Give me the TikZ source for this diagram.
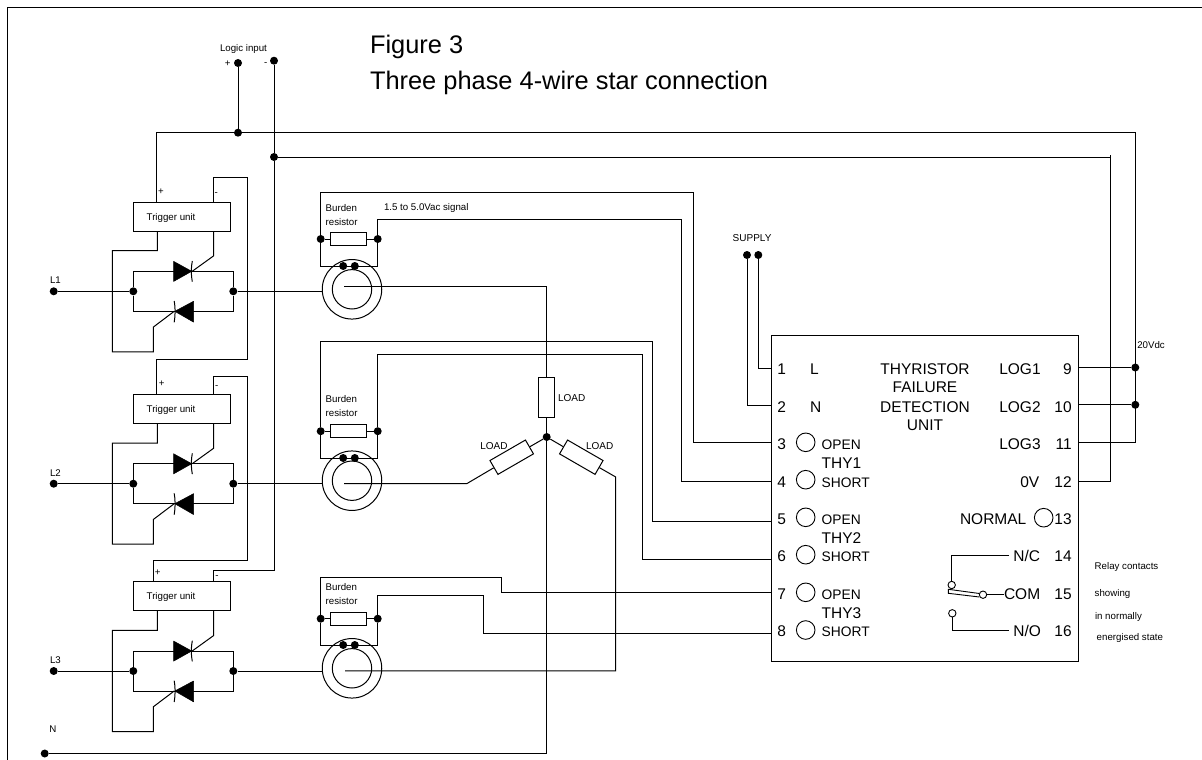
\documentclass[tikz,border=0pt]{standalone}
\usepackage{fontspec}
\setmainfont{Liberation Sans}
\newcommand{\fsz}[1]{\fontsize{#1}{#1}\selectfont}
\tikzset{
  wire/.style={draw=black,line width=1pt,line join=miter},
  dot/.style={circle,fill=black,draw=none,inner sep=0pt,minimum size=8pt},
  ldot/.style={circle,draw=black,line width=.9pt,fill=white,inner sep=0pt,minimum size=7.4pt},
  lamp/.style={circle,draw=black,line width=.9pt,fill=white,inner sep=0pt,minimum size=18.6pt},
  txt/.style={inner sep=0pt,outer sep=0pt,anchor=base west,text=black},
  rtxt/.style={txt,anchor=base east},
  ctxt/.style={txt,anchor=base},
  tiny/.style={font=\fsz{9.7}},
  mid/.style={font=\fsz{15.5}},
  opn/.style={font=\fsz{13.8}},
  ttl/.style={font=\fsz{25.4}},
  trigbox/.style={draw=black,line width=1pt,minimum width=96.7pt,minimum height=29pt,inner sep=0pt},
  res/.style={draw=black,line width=1pt,fill=white,minimum width=36pt,minimum height=12.6pt,inner sep=0pt},
  ring/.style={circle,draw=black,line width=1pt,inner sep=0pt},
  thy/.style={fill=black,draw=black,line width=.5pt,line join=round}
}
% one thyristor pair with its trigger unit, #1 = name suffix, #2 = y of the line
\newcommand{\phasegroup}[2]{%
\begin{scope}[shift={(0,#2)}]
  \node[trigbox] (T#1) at (181.65,-74.8) {};
  \node[txt,tiny] (Tl#1) at (146.7,-71.3) {Trigger unit};
  \node[dot] (L#1) at (53.7,0) {};
  \node[txt,tiny] (Ll#1) at (50,-7.5) {L#1};
  \node[dot] (A#1) at (133.3,0) {};
  \node[dot] (B#1) at (233.3,0) {};
  \coordinate (W#1) at (322.3,0);
  \coordinate (G#1) at (192.2,-20);
  \coordinate (H#1) at (174.2,20);
  \draw[wire] (L#1) -- (A#1);
  \draw[wire] (B#1) -- (W#1);
  \draw[wire] (A#1) -- (133.3,-20) -- (233.3,-20) -- (B#1);
  \draw[wire] (A#1) -- (133.3,20) -- (233.3,20) -- (B#1);
  \draw[thy] (173.5,-30) -- (191.7,-20) -- (173.5,-9.8) -- cycle;
  \draw[thy] (193.5,10) -- (174.8,20) -- (193.5,30.8) -- cycle;
  \draw[line width=1pt] (192.3,-30.3) .. controls (191,-24) and (191,-16) .. (192.3,-9.6);
  \draw[line width=1pt] (174.2,9.7) .. controls (175.4,16) and (175.4,24) .. (174.2,31);
  \coordinate (Tg#1) at (213.7,-60.3);
  \draw[wire] (Tg#1) -- (213.7,-35.5) -- (G#1);
  \coordinate (Tk#1) at (157.3,-60.3);
  \draw[wire] (Tk#1) -- (157.3,-40.6) -- (112.3,-40.6) -- (112.3,60.5) -- (153.3,60.5) -- (153.3,35.8) -- (H#1);
  \coordinate (Tp#1) at (156.5,-89.3);
  \coordinate (Tm#1) at (213.7,-89.3);
\end{scope}}
% burden resistor and current transformer
\newcommand{\burden}[7]{% #1 suffix, #2 resistor y, #3 left dot y, #4 right dot y, #5 bottom y, #6 ring y, #7 text y
  \node[res] (R#1) at (348.7,#2) {};
  \node[dot] (RL#1) at (320.7,#3) {};
  \node[dot] (RR#1) at (377.7,#4) {};
  \draw[wire] (RL#1) -- (330.7,#3);
  \draw[wire] (366.7,#4) -- (RR#1);
  \draw[wire] (RL#1) -- (320.7,#5) -- (377.7,#5) -- (RR#1);
  \node[ring,minimum size=59.5pt] (CO#1) at (352,#6) {};
  \node[ring,minimum size=39.4pt] (CI#1) at (352,#6) {};
  \node[dot] (CA#1) at (343.2,#5) {};
  \node[dot] (CB#1) at (354.8,#5) {};
  \node[txt,tiny] (Bu#1) at (325.7,#7) {Burden};
  \node[txt,tiny] (Bs#1) at (325.7,#7+14) {resistor};
}
\begin{document}
\begin{tikzpicture}[x=1pt,y=-1pt]
\useasboundingbox (0,0) rectangle (1202,760);
% page frame
\coordinate (FL) at (7.5,760);
\coordinate (FC) at (7.5,7.5);
\coordinate (FR) at (1202,7.5);
\draw[line width=1pt] (FL) -- (FC) -- (FR);
% title
\node[txt,ttl] (title1) at (370,54) {Figure 3};
\node[txt,ttl] (title2) at (370,89.5) {Three phase 4-wire star connection};
% logic input
\node[txt,tiny] (logic) at (220,52) {Logic input};
\node[dot] (LP) at (238,63) {};
\node[dot] (LM) at (274,60.7) {};
\node[txt,tiny,anchor=base] (lpl) at (227.7,66.5) {+};
\node[txt,tiny,anchor=base] (lml) at (265.7,66) {-};
\node[dot] (RP) at (238,132.7) {};
\node[dot] (RM) at (274,157) {};
\draw[wire] (LP) -- (RP);
% phases
\phasegroup{1}{291.3}
\phasegroup{2}{483.7}
\phasegroup{3}{671}
\node[txt,tiny,anchor=base] at (161,194) {+};
\node[txt,tiny,anchor=base] at (216.3,195) {-};
\node[txt,tiny,anchor=base] at (161.7,386.7) {+};
\node[txt,tiny,anchor=base] at (216.7,388) {-};
\node[txt,tiny,anchor=base] at (157.7,575.7) {+};
\node[txt,tiny,anchor=base] at (217,578) {-};
% unit
\node[draw=black,line width=1pt,minimum width=306.6pt,minimum height=326pt,inner sep=0pt] (U) at (925,498.7) {};
\foreach \n/\y in {1/368.3,2/405.8,3/442.7,4/481.7,5/521,6/559,7/592.7,8/633.3}
  \coordinate (p\n) at (771.7,\y);
\foreach \n/\y in {9/367.5,10/404.8,11/442.3,12/481.3}
  \coordinate (p\n) at (1078.3,\y);
% supply rails
\draw[wire] (Tp1) -- (156.5,132.7) -- (RP);
\draw[wire] (RP) -- (1135.3,132.7) -- (1135.3,442.3) -- (p11);
\node[dot] (D9) at (1135.3,367.5) {};
\node[dot] (D10) at (1135.3,404.8) {};
\draw[wire] (p9) -- (D9);
\draw[wire] (p10) -- (D10);
\draw[wire] (RM) -- (1110,157) ;
\draw[wire] (1110,155) -- (1110,481.3) -- (p12);
\draw[wire] (LM) -- (RM);
\draw[wire] (RM) -- (274,570) -- (213.7,570) -- (Tm3);
\draw[wire] (Tm1) -- (213.7,177.7) -- (247.3,177.7) -- (247.3,359.3) -- (156.5,359.3) -- (Tp2);
\draw[wire] (Tm2) -- (213.7,376.3) -- (247,376.3) -- (247,560) -- (153.3,560) -- (153.3,581.7);
\node[txt,tiny] (v20) at (1137.3,348.7) {20Vdc};
% burdens
\burden{1}{239}{239}{239}{266}{289.3}{211}
\burden{2}{431.2}{431.2}{431.2}{458}{480.7}{402.7}
\burden{3}{618.7}{618.7}{618.7}{645}{668.3}{590}
\node[txt,tiny] (sig) at (384,210.7) {1.5 to 5.0Vac signal};
\draw[wire] (RL1) -- (320.7,192.7) -- (693.3,192.7) -- (693.3,442.7) -- (p3);
\draw[wire] (RR1) -- (377.7,219.3) -- (681.7,219.3) -- (681.7,481.7) -- (p4);
\draw[wire] (RL2) -- (320.7,341) -- (652.3,341) -- (652.3,521) -- (p5);
\draw[wire] (RR2) -- (377.7,354) -- (642,354) -- (642,559) -- (p6);
\draw[wire] (RL3) -- (320.7,577.3) -- (501.3,577.3) -- (501.3,592.7) -- (p7);
\draw[wire] (RR3) -- (377.7,595.7) -- (483.7,595.7) -- (483.7,633.3) -- (p8);
% star point and loads
\node[dot] (star) at (546.7,437) {};
\node[dot] (Nd) at (44.7,753.5) {};
\node[txt,tiny] (Nl) at (49.3,732.7) {N};
\coordinate (cl1) at (344,286.5);
\coordinate (cl2) at (344,483.7);
\coordinate (cl3) at (345,670.8);
\draw[wire] (cl1) -- (546.7,286.5) -- (star);
\draw[wire] (star) -- (546.7,753.5) -- (Nd);
\node[res,minimum width=16pt,minimum height=39.6pt] (LA) at (546.3,397.5) {};
\node[res,minimum width=41pt,minimum height=16pt,rotate=30] (LB) at (511.7,457.2) {};
\node[res,minimum width=41pt,minimum height=16pt,rotate=-30] (LC) at (581.3,457.2) {};
\draw[wire] (cl2) -- (466.7,483.7) -- (LB);
\draw[wire] (LB) -- (star);
\draw[wire] (cl3) -- (615.7,670.8) -- (615.7,477) -- (LC);
\draw[wire] (LC) -- (star);
\node[txt,font=\fsz{10}] (ll1) at (558,401.3) {LOAD};
\node[txt,font=\fsz{10}] (ll2) at (480.3,449.3) {LOAD};
\node[txt,font=\fsz{10}] (ll3) at (586,449.3) {LOAD};
% supply
\node[txt,font=\fsz{10}] (sup) at (732.7,241) {SUPPLY};
\node[dot] (S1) at (747,255) {};
\node[dot] (S2) at (758.3,255) {};
\draw[wire] (S1) -- (747,405.8) -- (p2);
\draw[wire] (S2) -- (758.3,368.3) -- (p1);
% unit texts
\foreach \n/\y in {1/374.3,2/412.3,3/449.3,4/487.3,5/524.3,6/561.3,7/599,8/636.3}
  \node[ctxt,mid] (n\n) at (781.7,\y) {\n};
\foreach \n/\y in {9/374.3,10/412.3,11/449.3,12/487.3,13/524.3,14/561.3,15/599,16/636.3}
  \node[rtxt,mid] (n\n) at (1071.7,\y) {\n};
\node[txt,mid] (tL) at (810,374.3) {L};
\node[txt,mid] (tN) at (810,412.3) {N};
\node[ctxt,mid] (c1) at (925,374.3) {THYRISTOR};
\node[ctxt,mid] (c2) at (925,392) {FAILURE};
\node[ctxt,mid] (c3) at (925,412.3) {DETECTION};
\node[ctxt,mid] (c4) at (925,430) {UNIT};
\node[txt,mid] (lg1) at (999.3,374.3) {LOG1};
\node[txt,mid] (lg2) at (999.3,412.3) {LOG2};
\node[txt,mid] (lg3) at (999.3,449.3) {LOG3};
\node[rtxt,mid] (ov) at (1039.3,487.3) {0V};
\node[txt,mid] (nrm) at (960,524.3) {NORMAL};
\node[lamp] (lN) at (1043.7,517.7) {};
\foreach \k/\y in {a/442.3,b/479.7,c/517.3,d/554.7,e/592.3,f/630}
  \node[lamp] (lamp\k) at (805.7,\y) {};
\node[txt,opn] at (821.7,449.3) {OPEN};
\node[txt,opn] at (821.7,487.3) {SHORT};
\node[txt,opn] at (821.7,524.3) {OPEN};
\node[txt,opn] at (821.7,561.3) {SHORT};
\node[txt,opn] at (821.7,599) {OPEN};
\node[txt,opn] at (821.7,636.3) {SHORT};
\node[txt,mid] at (821.7,468) {THY1};
\node[txt,mid] at (821.7,543) {THY2};
\node[txt,mid] at (821.7,618) {THY3};
% relay
\node[txt,mid] (nc) at (1013.3,561.3) {N/C};
\node[txt,mid] (com) at (1004,599) {COM};
\node[txt,mid] (no) at (1013.3,636.3) {N/O};
\node[ldot] (rC) at (951.7,585) {};
\node[ldot] (rM) at (983,594.7) {};
\node[ldot] (rO) at (952.3,613.3) {};
\coordinate (ncE) at (1009,555.7);
\coordinate (noE) at (1009,630);
\coordinate (comE) at (1004,594.7);
\draw[wire] (ncE) -- (951.7,555.7) -- (rC);
\draw[wire] (rO) -- (952.3,630) -- (noE);
\draw[wire] (rM) -- (comE);
\draw[line width=.9pt] (979.4,593.5) -- (948.3,589.3) -- (948.3,593.3) -- (979.4,597);
% relay note
\node[txt,tiny] at (1094.7,569.5) {Relay contacts};
\node[txt,tiny] at (1094.7,596.5) {showing};
\node[txt,tiny] at (1095,619.5) {in normally};
\node[txt,tiny] at (1096.7,640.5) {energised state};
\end{tikzpicture}
\end{document}
